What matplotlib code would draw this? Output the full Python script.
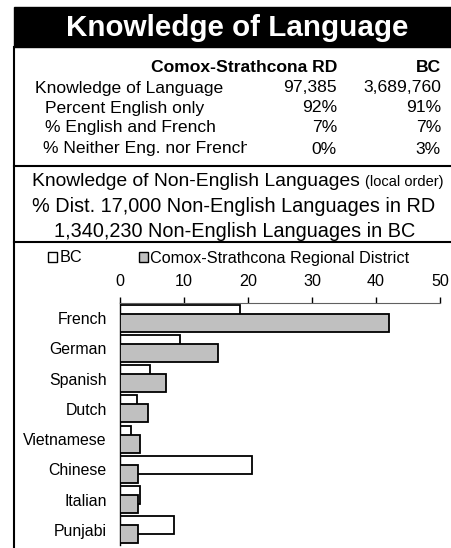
import matplotlib
matplotlib.use("Agg")
import matplotlib.pyplot as plt
from matplotlib.patches import Rectangle, Patch
from matplotlib.lines import Line2D

plt.rcParams["font.family"] = ["Liberation Sans", "DejaVu Sans"]

W, H = 451, 548

# tableau du haut
col_headers = ["Comox-Strathcona RD", "BC"]
row_labels = ["Knowledge of Language", "Percent English only",
              "% English and French", "% Neither Eng. nor French"]
rd_values = ["97,385", "92%", "7%", "0%"]
bc_values = ["3,689,760", "91%", "7%", "3%"]

# barres
languages = ["French", "German", "Spanish", "Dutch", "Vietnamese",
             "Chinese", "Italian", "Punjabi"]
bc_pct = [18.8, 9.3, 4.7, 2.6, 1.7, 20.7, 3.2, 8.4]
rd_pct = [42.0, 15.3, 7.2, 4.3, 3.1, 2.8, 2.8, 2.8]
xticks = [0, 10, 20, 30, 40, 50]

FS = 12.6


def fx(px):
    return px / W


def fy(py):
    return 1 - py / H


fig = plt.figure(figsize=(W / 100, H / 100), dpi=100)

# bandeau titre
fig.patches.append(Rectangle((fx(14), fy(47)), fx(W - 14), 40 / H,
                             transform=fig.transFigure, color="black", zorder=0))
fig.text(fx(237), fy(28), "Knowledge of Language", color="white",
         fontsize=21.3, fontweight="bold", ha="center", va="center")

# cadre : bord gauche + séparateurs
fig.add_artist(Line2D([fx(14), fx(14)], [fy(47), fy(H)], color="black", lw=1.5))
for y in (166, 242):
    fig.add_artist(Line2D([fx(14), fx(W)], [fy(y), fy(y)], color="black", lw=1.5))

# tableau
fig.text(fx(337), fy(67), col_headers[0], fontsize=FS, fontweight="bold",
         ha="right", va="center")
fig.text(fx(441), fy(67), col_headers[1], fontsize=FS, fontweight="bold",
         ha="right", va="center")
row_y = [88, 108, 128, 149]
row_x = [35, 45, 45, 43]
for i, lab in enumerate(row_labels):
    t = fig.text(fx(row_x[i]), fy(row_y[i]), lab, fontsize=FS,
                 ha="left", va="center")
    if i == 3:
        clip = Rectangle((0, 0), fx(247), 1, transform=fig.transFigure)
        t.set_clip_path(clip)
    fig.text(fx(337), fy(row_y[i]), rd_values[i], fontsize=FS,
             ha="right", va="center")
    fig.text(fx(441), fy(row_y[i]), bc_values[i], fontsize=FS,
             ha="right", va="center")

# sous-titres
t1 = fig.text(fx(32), fy(181), "Knowledge of Non-English Languages ",
              fontsize=13.9, ha="left", va="center")
fig.canvas.draw()
bb = t1.get_window_extent()
fig.text(bb.x1 / fig.dpi / fig.get_figwidth(), fy(182), "(local order)",
         fontsize=10.5, ha="left", va="center")
fig.text(fx(234), fy(206), "% Dist. 17,000 Non-English Languages in RD",
         fontsize=14.3, ha="center", va="center")
fig.text(fx(235), fy(231), "1,340,230 Non-English Languages in BC",
         fontsize=14.3, ha="center", va="center")

# graphique
ax = fig.add_axes([fx(120), fy(545), fx(440) - fx(120), (545 - 303) / H])
ypos = list(range(len(languages)))
ax.barh([y - 0.15 for y in ypos], bc_pct, height=0.6, color="white",
        edgecolor="black", lw=1.3, label="BC", zorder=2)
ax.barh([y + 0.15 for y in ypos], rd_pct, height=0.6, color="#c0c0c0",
        edgecolor="black", lw=1.3, label="Comox-Strathcona Regional District",
        zorder=3)
ax.set_xlim(0, 50)
ax.set_ylim(len(languages) - 0.5, -0.5)
ax.set_xticks(xticks)
ax.xaxis.tick_top()
ax.tick_params(axis="x", direction="out", length=4, width=1, labelsize=11.6,
               pad=6, colors="black")
ax.set_yticks(ypos)
ax.set_yticklabels(languages)
ax.tick_params(axis="y", length=0, labelsize=11.4, pad=9.5)
for s in ("right", "bottom"):
    ax.spines[s].set_visible(False)
ax.spines["top"].set_color("#606060")
ax.spines["left"].set_color("black")
ax.spines["left"].set_linewidth(1.0)

handles = [Patch(facecolor="white", edgecolor="black", lw=1),
           Patch(facecolor="#c0c0c0", edgecolor="black", lw=1)]
fig.legend(handles, ["BC", "Comox-Strathcona Regional District"],
           loc="center left", bbox_to_anchor=(fx(48), fy(258)), ncol=2,
           frameon=False, fontsize=11.7, handlelength=0.55, handleheight=0.55,
           handletextpad=0.15, columnspacing=3.5, borderpad=0, borderaxespad=0)

fig.savefig("out.png", dpi=100)
